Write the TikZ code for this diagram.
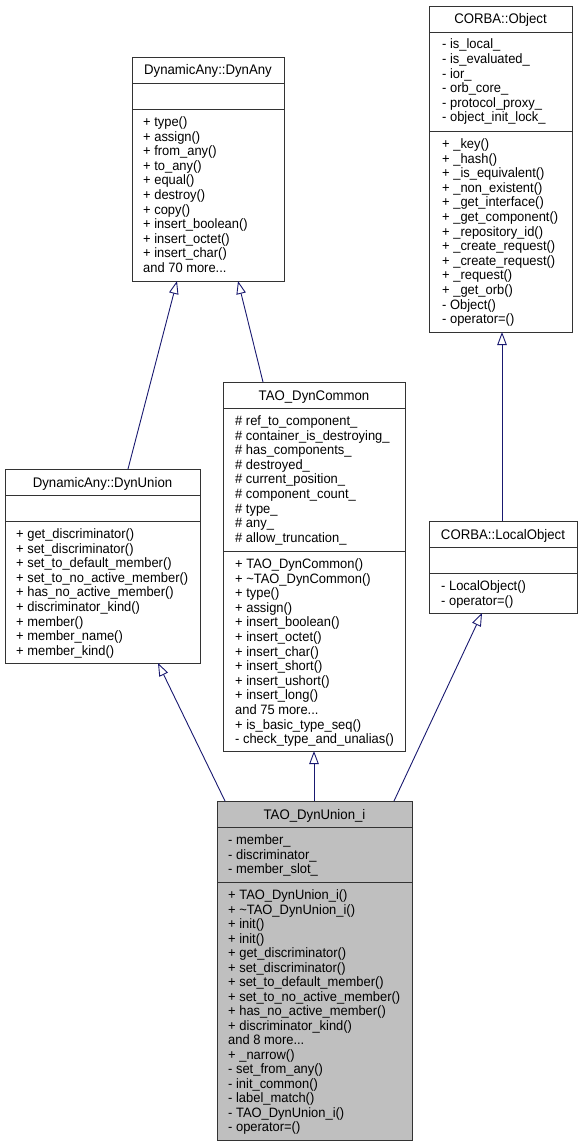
\documentclass[tikz,border=0pt]{standalone}
\usepackage{fontspec}
\setmainfont{Liberation Sans}[FakeStretch=0.95]
\usetikzlibrary{arrows.meta,calc}
\definecolor{edgeblue}{HTML}{191970}
\definecolor{boxgray}{HTML}{BFBFBF}
\definecolor{boxline}{HTML}{333333}
\newcommand{\tdots}{.\kern0pt.\kern0pt.}
\tikzset{
  box/.style={draw=boxline, line width=0.9pt, anchor=north west, inner sep=0pt, outer sep=0pt},
  sepline/.style={draw=boxline, line width=0.9pt},
  mem/.style={anchor=base west, inner sep=0pt, font=\fontsize{13.6}{14.5}\selectfont},
  ttl/.style={anchor=base, inner sep=0pt, font=\fontsize{13.9}{14.5}\selectfont},
  inh/.style={draw=edgeblue, line width=0.9pt, -{Triangle[open, length=13pt, width=9.5pt]}}
}
\begin{document}
\begin{tikzpicture}[x=1pt, y=-1pt]
\useasboundingbox (0,0) rectangle (581,1147);

% ---------------- DynamicAny::DynAny
\node[box, minimum width=152, minimum height=224] (dany) at (132,57) {};
\draw[sepline] (132,83) -- (284,83);
\draw[sepline] (132,109) -- (284,109);
\node[ttl] (dany-t) at (208,75) {DynamicAny::DynAny};
\foreach \t [count=\i from 0] in {+ type(), + assign(), + from\_any(), + to\_any(), + equal(), + destroy(), + copy(), + insert\_boolean(), + insert\_octet(), + insert\_char(), {and 70 more\tdots}}
  \node[mem] (dany-m\i) at (143, 126.5+14.6*\i) {\t};

% ---------------- CORBA::Object
\node[box, minimum width=143, minimum height=326] (cobj) at (429,6) {};
\draw[sepline] (429,32) -- (572,32);
\draw[sepline] (429,131) -- (572,131);
\node[ttl] (cobj-t) at (500.5,24) {CORBA::Object};
\foreach \t [count=\i from 0] in {- is\_local\_, - is\_evaluated\_, - ior\_, - orb\_core\_, - protocol\_proxy\_, - object\_init\_lock\_}
  \node[mem] (cobj-a\i) at (442, 49+14.6*\i) {\t};
\foreach \t [count=\i from 0] in {+ \_key(), + \_hash(), + \_is\_equivalent(), + \_non\_existent(), + \_get\_interface(), + \_get\_component(), + \_repository\_id(), + \_create\_request(), + \_create\_request(), + \_request(), + \_get\_orb(), - Object(), - operator=()}
  \node[mem] (cobj-m\i) at (442, 148.5+14.6*\i) {\t};

% ---------------- TAO_DynCommon
\node[box, minimum width=182, minimum height=369] (dcommon) at (223,382) {};
\draw[sepline] (223,408) -- (405,408);
\draw[sepline] (223,551) -- (405,551);
\node[ttl] (dcommon-t) at (314,400) {TAO\_DynCommon};
\foreach \t [count=\i from 0] in {\# ref\_to\_component\_, \# container\_is\_destroying\_, \# has\_components\_, \# destroyed\_, \# current\_position\_, \# component\_count\_, \# type\_, \# any\_, \# allow\_truncation\_}
  \node[mem] (dcommon-a\i) at (235, 425.5+14.6*\i) {\t};
\foreach \t [count=\i from 0] in {+ TAO\_DynCommon(), + \textasciitilde TAO\_DynCommon(), + type(), + assign(), + insert\_boolean(), + insert\_octet(), + insert\_char(), + insert\_short(), + insert\_ushort(), + insert\_long(), {and 75 more\tdots}, + is\_basic\_type\_seq(), - check\_type\_and\_unalias()}
  \node[mem] (dcommon-m\i) at (235, 568.5+14.6*\i) {\t};

% ---------------- DynamicAny::DynUnion
\node[box, minimum width=195, minimum height=194] (dunion) at (5,469) {};
\draw[sepline] (5,495) -- (200,495);
\draw[sepline] (5,521) -- (200,521);
\node[ttl] (dunion-t) at (102.5,487) {DynamicAny::DynUnion};
\foreach \t [count=\i from 0] in {+ get\_discriminator(), + set\_discriminator(), + set\_to\_default\_member(), + set\_to\_no\_active\_member(), + has\_no\_active\_member(), + discriminator\_kind(), + member(), + member\_name(), + member\_kind()}
  \node[mem] (dunion-m\i) at (16, 538.5+14.6*\i) {\t};

% ---------------- CORBA::LocalObject
\node[box, minimum width=148, minimum height=92] (lobj) at (429,521) {};
\draw[sepline] (429,547) -- (577,547);
\draw[sepline] (429,573) -- (577,573);
\node[ttl] (lobj-t) at (503,539) {CORBA::LocalObject};
\foreach \t [count=\i from 0] in {- LocalObject(), - operator=()}
  \node[mem] (lobj-m\i) at (441, 590.5+14.6*\i) {\t};

% ---------------- TAO_DynUnion_i
\node[box, fill=boxgray, minimum width=195, minimum height=339] (duni) at (217,801) {};
\draw[sepline] (217,827) -- (412,827);
\draw[sepline] (217,882) -- (412,882);
\node[ttl] (duni-t) at (314.5,819) {TAO\_DynUnion\_i};
\foreach \t [count=\i from 0] in {- member\_, - discriminator\_, - member\_slot\_}
  \node[mem] (duni-a\i) at (228, 844.5+14.5*\i) {\t};
\foreach \t [count=\i from 0] in {+ TAO\_DynUnion\_i(), + \textasciitilde TAO\_DynUnion\_i(), + init(), + init(), + get\_discriminator(), + set\_discriminator(), + set\_to\_default\_member(), + set\_to\_no\_active\_member(), + has\_no\_active\_member(), + discriminator\_kind(), {and 8 more\tdots}, + \_narrow(), - set\_from\_any(), - init\_common(), - label\_match(), - TAO\_DynUnion\_i(), - operator=()}
  \node[mem] (duni-m\i) at (228, 899.5+14.5*\i) {\t};

% ---------------- inheritance connectors
\draw[inh] ($(dunion.north west)+(123,0)$) -- ($(dany.south west)+(45,0)$);
\draw[inh] ($(dcommon.north west)+(40,0)$) -- ($(dany.south west)+(106,0)$);
\draw[inh] ($(lobj.north west)+(73,0)$) -- ($(cobj.south west)+(73,0)$);
\draw[inh] ($(duni.north west)+(8,0)$) -- ($(dunion.south west)+(153,0)$);
\draw[inh] ($(duni.north west)+(97,0)$) -- ($(dcommon.south west)+(91,0)$);
\draw[inh] ($(duni.north west)+(177,0)$) -- ($(lobj.south west)+(53,0)$);
\end{tikzpicture}
\end{document}
